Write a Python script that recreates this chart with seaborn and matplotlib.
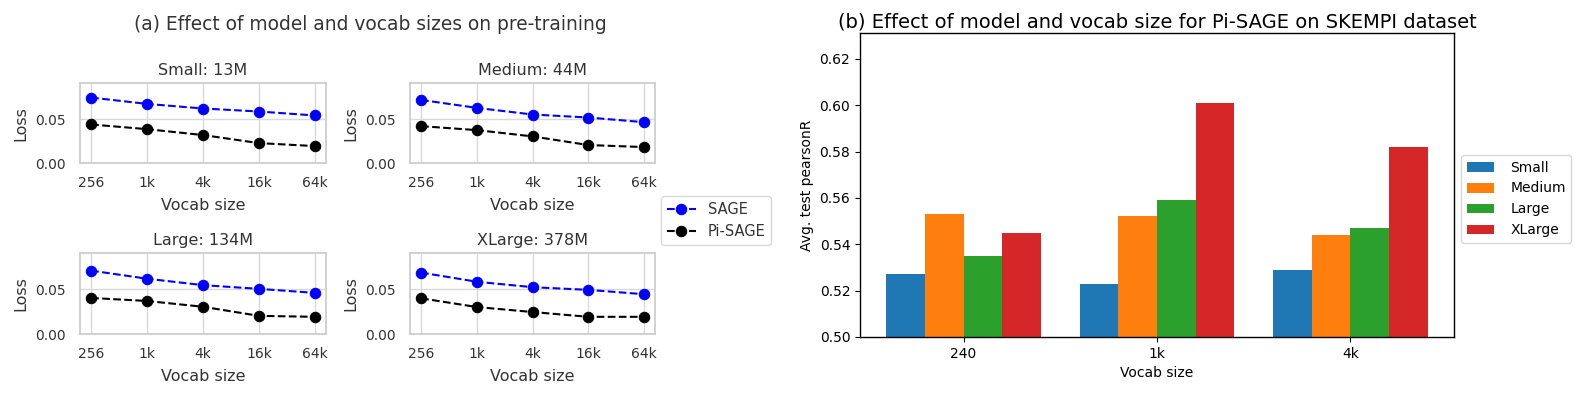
import numpy as np
import pandas as pd
import matplotlib
matplotlib.use("Agg")
import matplotlib.pyplot as plt
from matplotlib.ticker import MultipleLocator, FormatStrFormatter
from matplotlib.patches import Patch
import seaborn as sns

# ---------------- data ----------------
vocab_labels = ["256", "1k", "4k", "16k", "64k"]
panel_titles = ["Small: 13M", "Medium: 44M", "Large: 134M", "XLarge: 378M"]
sage_small = [0.0745, 0.0673, 0.0621, 0.0587, 0.0542]
sage_medium = [0.0718, 0.0628, 0.0553, 0.0519, 0.0466]
sage_large = [0.0712, 0.0621, 0.0549, 0.0507, 0.0462]
sage_xlarge = [0.0690, 0.0587, 0.0526, 0.0496, 0.0447]
pisage_small = [0.0440, 0.0387, 0.0320, 0.0229, 0.0195]
pisage_medium = [0.0421, 0.0376, 0.0305, 0.0207, 0.0184]
pisage_large = [0.0405, 0.0371, 0.0306, 0.0204, 0.0193]
pisage_xlarge = [0.0401, 0.0303, 0.0247, 0.0193, 0.0193]

bar_vocab = ["240", "1k", "4k"]
model_names = ["Small", "Medium", "Large", "XLarge"]
pearson_small = [0.527, 0.523, 0.529]
pearson_medium = [0.553, 0.552, 0.544]
pearson_large = [0.535, 0.559, 0.547]
pearson_xlarge = [0.545, 0.601, 0.582]

W, H = 1579, 395
fig = plt.figure(figsize=(W / 100, H / 100), dpi=100)


def fbox(x0, y0, x1, y1):
    return [x0 / W, 1 - y1 / H, (x1 - x0) / W, (y1 - y0) / H]


# ---------------- left: panel (a) ----------------
sage_sets = [sage_small, sage_medium, sage_large, sage_xlarge]
pi_sets = [pisage_small, pisage_medium, pisage_large, pisage_xlarge]
boxes = [fbox(80, 83, 326, 163.3), fbox(410, 83, 655, 163.3),
         fbox(80, 253, 326, 334), fbox(410, 253, 655, 334)]
txt = "#333333"
xs = np.arange(len(vocab_labels))
with sns.axes_style("whitegrid", {"axes.edgecolor": "#cccccc", "grid.color": "#d9d9d9",
                                  "text.color": txt, "axes.labelcolor": txt,
                                  "xtick.color": txt, "ytick.color": txt}):
    left_axes = []
    for i in range(4):
        ax = fig.add_axes(boxes[i])
        sns.lineplot(x=xs, y=sage_sets[i], ax=ax, color="blue", linestyle="--",
                     marker="o", markersize=7.5, markeredgecolor="blue",
                     linewidth=1.5, label="SAGE")
        sns.lineplot(x=xs, y=pi_sets[i], ax=ax, color="black", linestyle="--",
                     marker="o", markersize=7.5, markeredgecolor="black",
                     linewidth=1.5, label="Pi-SAGE")
        ax.set_xticks(xs)
        ax.set_xticklabels(vocab_labels)
        ax.set_xlim(-0.2, 4.2)
        ax.set_ylim(0, 0.091)
        ax.yaxis.set_major_locator(MultipleLocator(0.05))
        ax.yaxis.set_major_formatter(FormatStrFormatter("%.2f"))
        ax.tick_params(axis="x", labelsize=10, pad=5.5, colors=txt)
        ax.tick_params(axis="y", labelsize=10, pad=6.7, colors=txt)
        ax.set_xlabel("Vocab size", fontsize=11.5, color=txt, labelpad=6)
        ax.set_ylabel("Loss", fontsize=11.5, color=txt, labelpad=5)
        ax.set_title(panel_titles[i], fontsize=11.5, color=txt, pad=6)
        for s in ax.spines.values():
            s.set_color("#cccccc")
            s.set_linewidth(1.25)
        ax.grid(True, color="#d9d9d9", linewidth=1)
        handles, labels = ax.get_legend_handles_labels()
        ax.get_legend().remove()
        left_axes.append(ax)

    leg = fig.legend(handles, labels, loc="upper left",
                     bbox_to_anchor=(661 / W, 1 - 196 / H), borderaxespad=0,
                     fontsize=10.5, frameon=True, fancybox=True)
    for t in leg.get_texts():
        t.set_color(txt)
    leg.get_frame().set_edgecolor("#d0d0d0")

fig.text(370 / W, 1 - 24 / H, "(a) Effect of model and vocab sizes on pre-training",
         ha="center", va="center", fontsize=13.4, color=txt)

# ---------------- right: panel (b) ----------------
df = pd.DataFrame({
    "Vocab size": bar_vocab * 4,
    "value": pearson_small + pearson_medium + pearson_large + pearson_xlarge,
    "model": sum([[m] * len(bar_vocab) for m in model_names], []),
})
colors = ["#1f77b4", "#ff7f0e", "#2ca02c", "#d62728"]
axb = fig.add_axes(fbox(860, 33.3, 1454, 337))
sns.barplot(data=df, x="Vocab size", y="value", hue="model", palette=colors,
            saturation=1, width=0.8, ax=axb, linewidth=0)
if axb.get_legend() is not None:
    axb.get_legend().remove()
axb.set_xlim(-0.535, 2.535)
axb.set_ylim(0.5, 0.631)
axb.set_ylabel("Avg. test pearsonR", fontsize=10)
axb.set_xlabel("Vocab size", fontsize=10)
axb.set_title("(b) Effect of model and vocab size for Pi-SAGE on SKEMPI dataset",
              fontsize=14, pad=4)
axb.tick_params(labelsize=10)
for s in axb.spines.values():
    s.set_visible(True)
    s.set_color("black")
    s.set_linewidth(1.0)
axb.grid(False)
bh = [Patch(facecolor=c) for c in colors]
fig.legend(bh, model_names, loc="upper left", bbox_to_anchor=(1461 / W, 1 - 155 / H),
           borderaxespad=0, fontsize=10, handletextpad=1.15)

fig.savefig("out.png", dpi=100)
